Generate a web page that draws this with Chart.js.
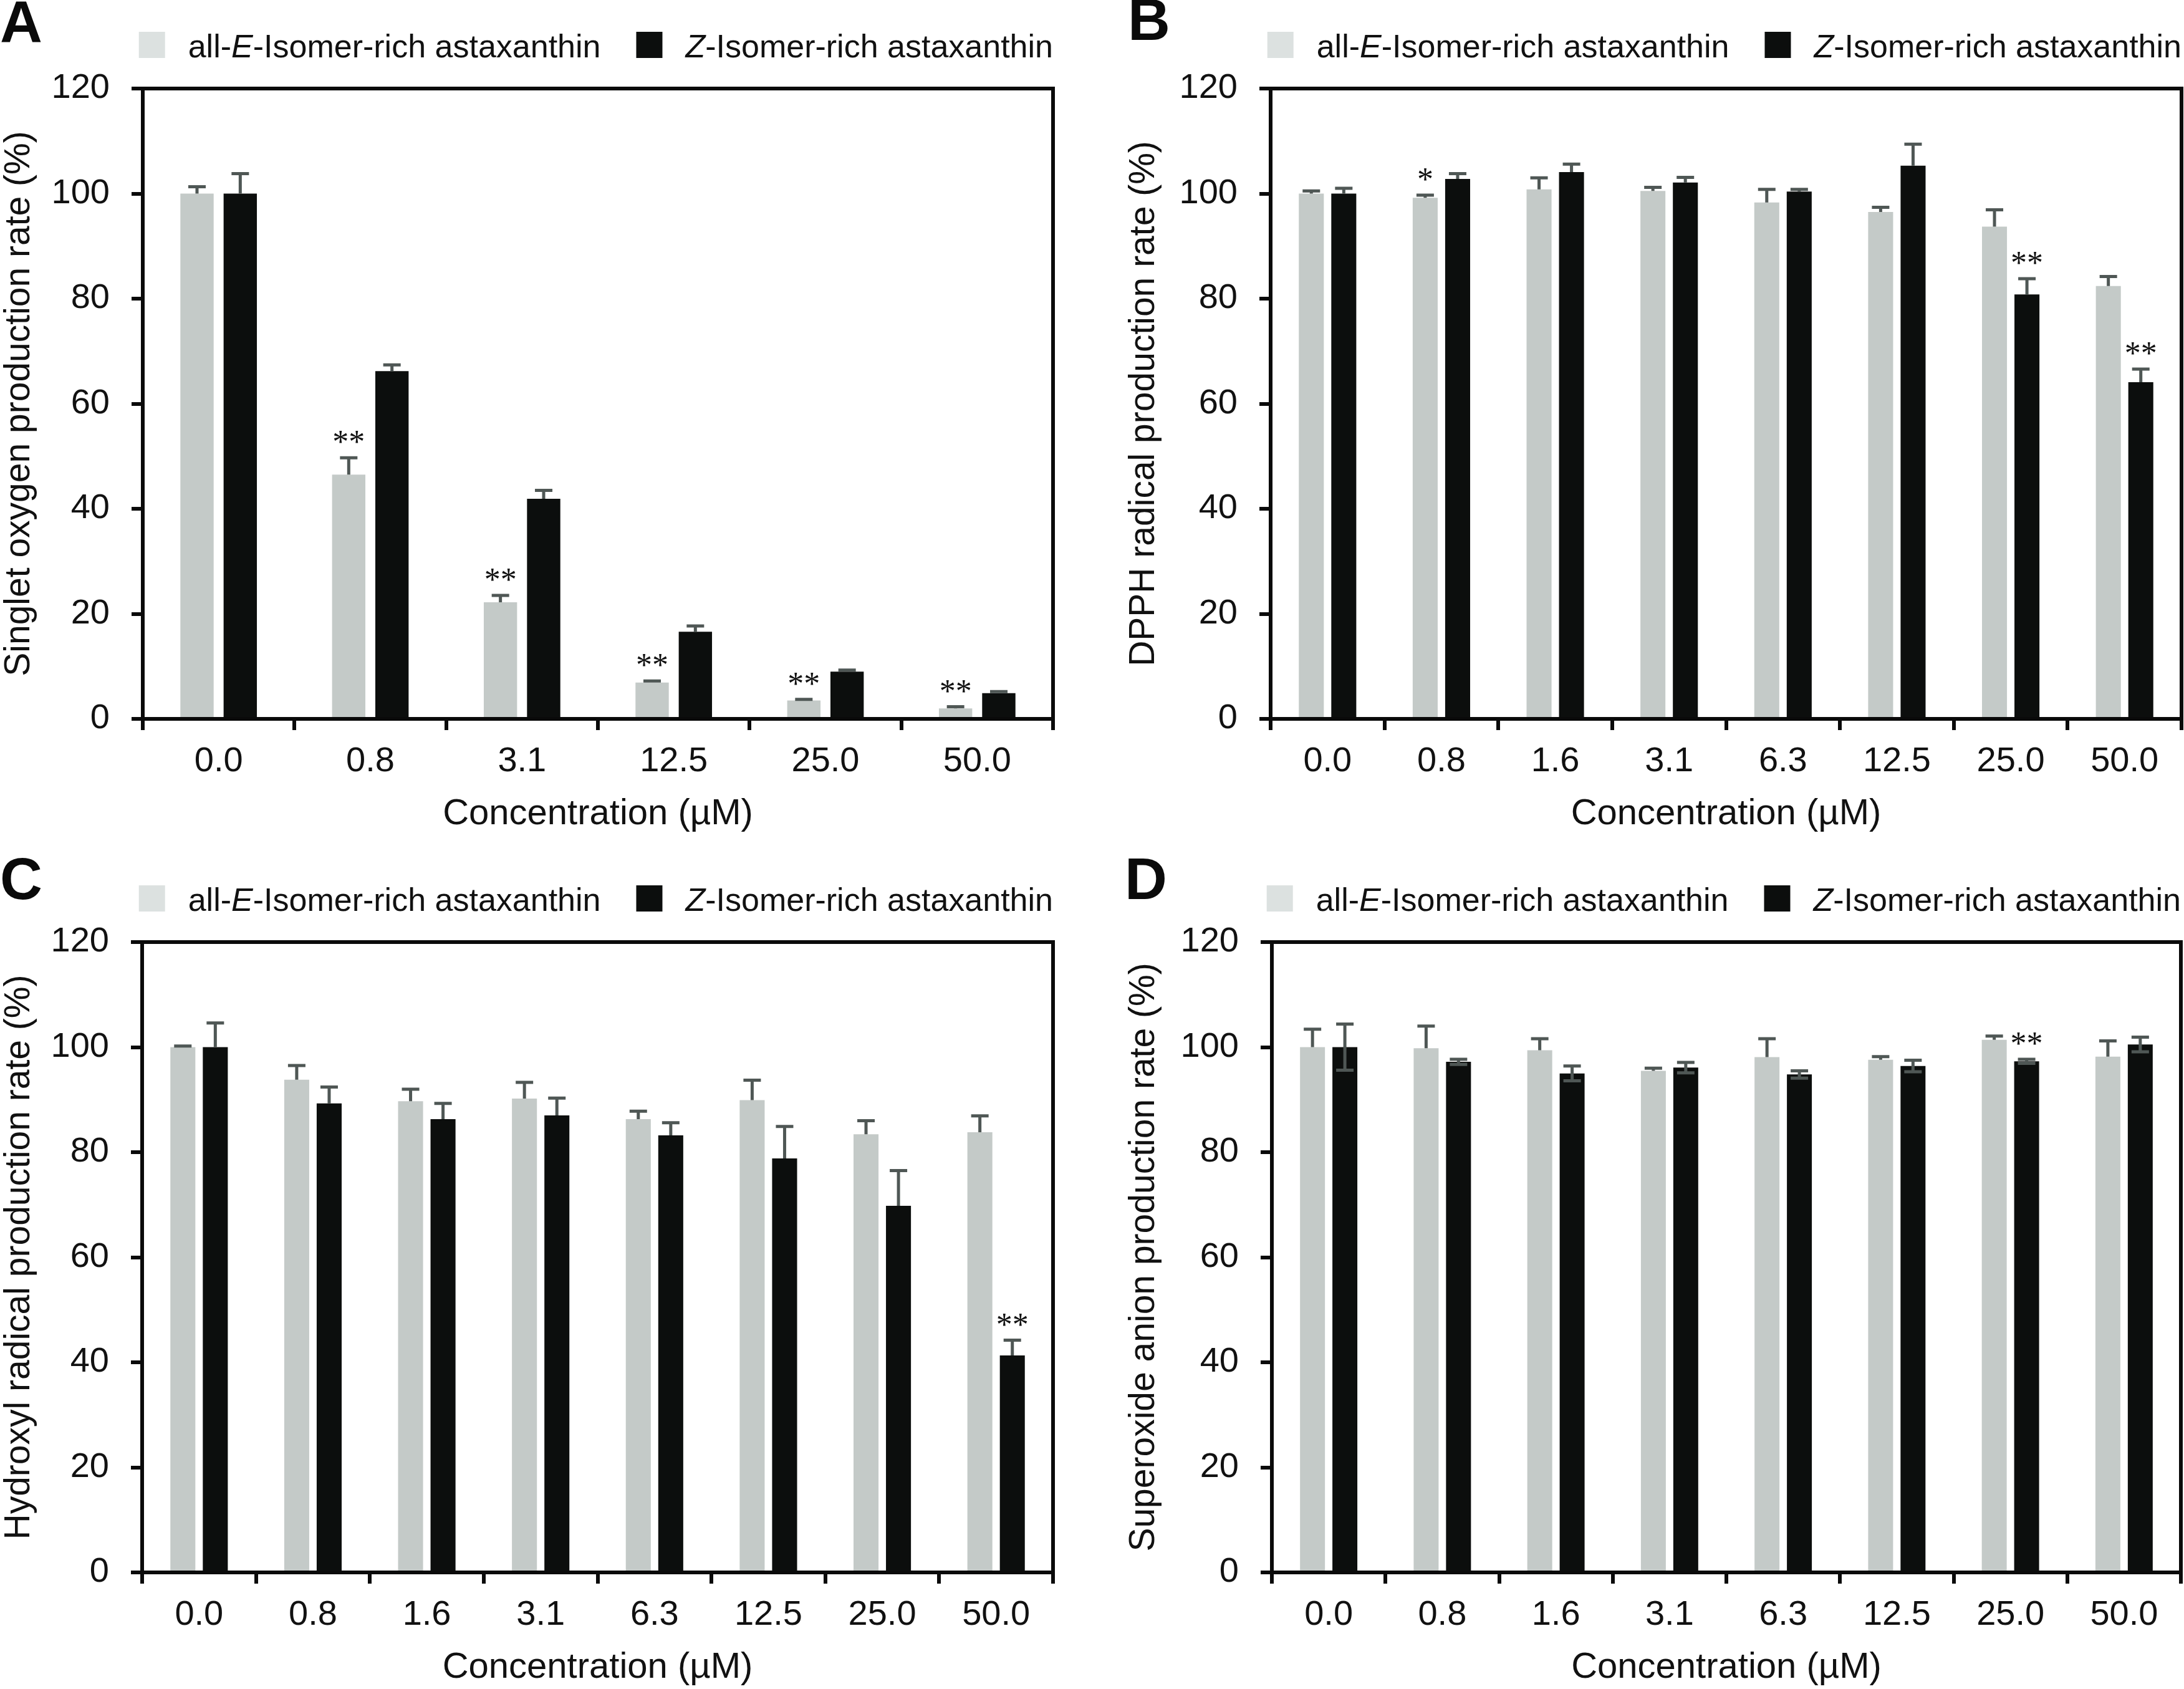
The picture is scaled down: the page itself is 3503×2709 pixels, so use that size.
<!DOCTYPE html>
<html>
<head>
<meta charset="utf-8">
<script src="https://cdn.jsdelivr.net/npm/chart.js@4.4.1/dist/chart.umd.min.js"></script>
<style>
  html, body { margin: 0; padding: 0; background: #fff; }
  body { width: 3503px; height: 2709px; position: relative; overflow: hidden; }
  canvas { position: absolute; }
</style>
</head>
<body>
<canvas id="chartA" width="1752" height="1340" style="left:0px;top:0px"></canvas>
<canvas id="chartB" width="1751" height="1340" style="left:1752px;top:0px"></canvas>
<canvas id="chartC" width="1752" height="1340" style="left:0px;top:1369px"></canvas>
<canvas id="chartD" width="1751" height="1340" style="left:1752px;top:1369px"></canvas>
<script>
// concentrations (µM)
const concShort = ['0.0', '0.8', '3.1', '12.5', '25.0', '50.0'];
const concLong = ['0.0', '0.8', '1.6', '3.1', '6.3', '12.5', '25.0', '50.0'];

// A - singlet oxygen
const singletE = [100, 46.5, 22.2, 6.9, 3.5, 2.0];
const singletEErr = [1.3, 3.2, 1.3, 0.3, 0.2, 0.3];
const singletZ = [100, 66.2, 41.9, 16.6, 9.0, 4.9];
const singletZErr = [3.8, 1.2, 1.6, 1.1, 0.3, 0.3];
const singletStarsE = ['', '**', '**', '**', '**', '**'];
const singletStarsZ = ['', '', '', '', '', ''];

// B - DPPH radical
const dpphE = [100, 99.2, 100.8, 100.5, 98.3, 96.5, 93.7, 82.4];
const dpphEErr = [0.5, 0.5, 2.2, 0.7, 2.5, 0.9, 3.2, 1.8];
const dpphZ = [100, 102.8, 104.1, 102.1, 100.4, 105.3, 80.8, 64.1];
const dpphZErr = [1.0, 1.0, 1.5, 1.0, 0.4, 4.1, 3.0, 2.5];
const dpphStarsE = ['', '*', '', '', '', '', '', ''];
const dpphStarsZ = ['', '', '', '', '', '', '**', '**'];

// C - hydroxyl radical
const hydroxylE = [100, 93.8, 89.7, 90.2, 86.3, 89.9, 83.4, 83.8];
const hydroxylEErr = [0.2, 2.7, 2.3, 3.1, 1.5, 3.8, 2.6, 3.1];
const hydroxylZ = [100, 89.3, 86.3, 87.0, 83.2, 78.8, 69.8, 41.3];
const hydroxylZErr = [4.6, 3.1, 3.0, 3.3, 2.4, 6.1, 6.7, 2.9];
const hydroxylStarsE = ['', '', '', '', '', '', '', ''];
const hydroxylStarsZ = ['', '', '', '', '', '', '', '**'];

// D - superoxide anion
const superoxideE = [100, 99.8, 99.4, 95.5, 98.1, 97.6, 101.4, 98.2];
const superoxideEErr = [3.4, 4.2, 2.2, 0.5, 3.5, 0.6, 0.7, 3.0];
const superoxideZ = [100, 97.2, 95.0, 96.1, 94.8, 96.4, 97.3, 100.5];
const superoxideZErr = [4.4, 0.5, 1.4, 1.0, 0.7, 1.1, 0.4, 1.4];
const superoxideStarsE = ['', '', '', '', '', '', '', ''];
const superoxideStarsZ = ['', '', '', '', '', '', '**', ''];

const yTicks = [0, 20, 40, 60, 80, 100, 120];

const FONT = '"Liberation Sans", Arial, Helvetica, sans-serif';
const STAR_FONT = '52px "Liberation Serif", "Times New Roman", serif';
const TEXT = '#111111';
const E_BAR = '#c4cac8';
const E_LEGEND = '#dce1e0';
const Z_BAR = '#0c0e0d';
const ERR = '#4f5755';
const CANVAS_H = 1340;
const PLOT_TOP = 142;
const PLOT_BOTTOM = 1153;

const decor = {};

function drawLegend(ctx, right, baseline) {
    const size = 52;
    const normal = `${size}px ${FONT}`;
    const italic = `italic ${size}px ${FONT}`;
    const items = [
        { color: E_LEGEND, parts: [['all-', false], ['E', true], ['-Isomer-rich astaxanthin', false]] },
        { color: Z_BAR, parts: [['Z', true], ['-Isomer-rich astaxanthin', false]] }
    ];
    const box = 42, boxGap = 37, itemGap = 57;
    const widths = items.map(item => item.parts.reduce((w, p) => {
        ctx.font = p[1] ? italic : normal;
        return w + ctx.measureText(p[0]).width;
    }, 0));
    let total = 0;
    widths.forEach((w, i) => { total += box + boxGap + w + (i > 0 ? itemGap : 0); });
    let x = right - total;
    ctx.textBaseline = 'alphabetic';
    ctx.textAlign = 'left';
    items.forEach((item, i) => {
        if (i > 0) x += itemGap;
        ctx.fillStyle = item.color;
        ctx.fillRect(x, baseline - 41, box, box);
        x += box + boxGap;
        ctx.fillStyle = TEXT;
        item.parts.forEach(p => {
            ctx.font = p[1] ? italic : normal;
            ctx.fillText(p[0], x, baseline);
            x += ctx.measureText(p[0]).width;
        });
    });
}

const panelDecor = {
    id: 'panelDecor',
    afterDatasetsDraw(chart) {
        const d = decor[chart.canvas.id];
        const ctx = chart.ctx;
        const yScale = chart.scales.y;
        ctx.save();
        chart.data.datasets.forEach((ds, di) => {
            const meta = chart.getDatasetMeta(di);
            const errs = d.errors[di];
            const stars = d.stars[di];
            const both = d.bothWays[di];
            meta.data.forEach((bar, i) => {
                const v = ds.data[i];
                const yTop = yScale.getPixelForValue(v + errs[i]);
                const yBot = both ? yScale.getPixelForValue(v - errs[i]) : bar.y;
                ctx.strokeStyle = ERR;
                ctx.lineWidth = 5;
                ctx.lineCap = 'butt';
                ctx.beginPath();
                ctx.moveTo(bar.x, yBot);
                ctx.lineTo(bar.x, yTop);
                ctx.moveTo(bar.x - 14, yTop);
                ctx.lineTo(bar.x + 14, yTop);
                if (both) {
                    ctx.moveTo(bar.x - 14, yBot);
                    ctx.lineTo(bar.x + 14, yBot);
                }
                ctx.stroke();
                if (stars[i]) {
                    ctx.fillStyle = TEXT;
                    ctx.font = STAR_FONT;
                    ctx.textAlign = 'center';
                    ctx.textBaseline = 'alphabetic';
                    ctx.fillText(stars[i], bar.x, yTop - 8);
                }
            });
        });
        ctx.restore();
    },
    afterDraw(chart) {
        const d = decor[chart.canvas.id];
        const ctx = chart.ctx;
        const a = chart.chartArea;
        ctx.save();
        // frame round the plot
        ctx.strokeStyle = '#0a0a0a';
        ctx.lineWidth = 6;
        ctx.strokeRect(a.left, a.top, a.right - a.left, a.bottom - a.top);
        drawLegend(ctx, a.right, 92);
        // panel letter
        ctx.fillStyle = '#0a0a0a';
        ctx.font = `bold 94px ${FONT}`;
        ctx.textAlign = 'left';
        ctx.textBaseline = 'alphabetic';
        ctx.fillText(d.letter, d.letterX, d.letterY);
        ctx.restore();
    }
};

function buildChart(id, p) {
    decor[id] = p;
    const axisGrid = {
        display: true,
        drawOnChartArea: false,
        drawTicks: true,
        tickLength: 18,
        lineWidth: 6,
        color: '#0a0a0a'
    };
    return new Chart(document.getElementById(id), {
        type: 'bar',
        data: {
            labels: p.labels,
            datasets: [
                {
                    label: 'all-E-Isomer-rich astaxanthin',
                    data: p.eVals,
                    backgroundColor: E_BAR,
                    borderWidth: 0,
                    categoryPercentage: 0.57,
                    barPercentage: 0.77
                },
                {
                    label: 'Z-Isomer-rich astaxanthin',
                    data: p.zVals,
                    backgroundColor: Z_BAR,
                    borderWidth: 0,
                    categoryPercentage: 0.57,
                    barPercentage: 0.77
                }
            ]
        },
        options: {
            responsive: false,
            animation: false,
            devicePixelRatio: 1,
            layout: { padding: { left: 0, right: p.padRight, top: PLOT_TOP, bottom: 0 } },
            plugins: {
                legend: { display: false },
                tooltip: { enabled: false }
            },
            scales: {
                x: {
                    offset: true,
                    grid: Object.assign({ offset: true }, axisGrid),
                    border: { display: false },
                    ticks: {
                        color: TEXT,
                        font: { family: FONT, size: 56 },
                        padding: 17,
                        maxRotation: 0,
                        autoSkip: false
                    },
                    title: {
                        display: true,
                        text: 'Concentration (µM)',
                        color: TEXT,
                        font: { family: FONT, size: 58, lineHeight: 1 },
                        padding: { top: 0, bottom: 5 }
                    },
                    afterFit: s => { s.height = CANVAS_H - PLOT_BOTTOM; }
                },
                y: {
                    min: 0,
                    max: 120,
                    afterBuildTicks: s => { s.ticks = yTicks.map(v => ({ value: v })); },
                    grid: axisGrid,
                    border: { display: false },
                    ticks: {
                        color: TEXT,
                        font: { family: FONT, size: 56 },
                        padding: 35
                    },
                    title: {
                        display: true,
                        text: p.yTitle,
                        color: TEXT,
                        font: { family: FONT, size: 57, lineHeight: 1 },
                        padding: { top: p.yTitlePad, bottom: 0 }
                    },
                    afterFit: s => { s.width = p.plotLeft; }
                }
            }
        },
        plugins: [panelDecor]
    });
}

buildChart('chartA', {
    letter: 'A', letterX: 0, letterY: 68,
    labels: concShort,
    eVals: singletE, zVals: singletZ,
    errors: [singletEErr, singletZErr],
    stars: [singletStarsE, singletStarsZ],
    bothWays: [false, false],
    yTitle: 'Singlet oxygen production rate (%)',
    yTitlePad: 3, plotLeft: 229, padRight: 63
});

buildChart('chartB', {
    letter: 'B', letterX: 57, letterY: 64,
    labels: concLong,
    eVals: dpphE, zVals: dpphZ,
    errors: [dpphEErr, dpphZErr],
    stars: [dpphStarsE, dpphStarsZ],
    bothWays: [false, false],
    yTitle: 'DPPH radical production rate (%)',
    yTitlePad: 55, plotLeft: 286, padRight: 4
});

buildChart('chartC', {
    letter: 'C', letterX: 0, letterY: 73,
    labels: concLong,
    eVals: hydroxylE, zVals: hydroxylZ,
    errors: [hydroxylEErr, hydroxylZErr],
    stars: [hydroxylStarsE, hydroxylStarsZ],
    bothWays: [false, false],
    yTitle: 'Hydroxyl radical production rate (%)',
    yTitlePad: 3, plotLeft: 228, padRight: 63
});

buildChart('chartD', {
    letter: 'D', letterX: 52, letterY: 73,
    labels: concLong,
    eVals: superoxideE, zVals: superoxideZ,
    errors: [superoxideEErr, superoxideZErr],
    stars: [superoxideStarsE, superoxideStarsZ],
    bothWays: [false, true],
    yTitle: 'Superoxide anion production rate (%)',
    yTitlePad: 55, plotLeft: 288, padRight: 5
});
</script>
</body>
</html>
